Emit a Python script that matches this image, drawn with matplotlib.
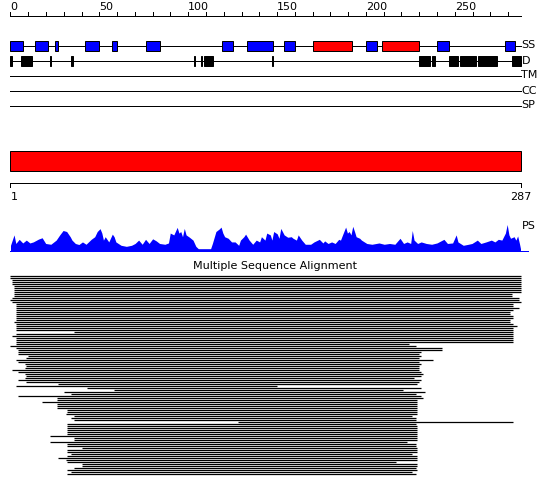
import matplotlib
matplotlib.use("Agg")
import matplotlib.pyplot as plt
from matplotlib.patches import Rectangle

# ---------------- data (residue coordinates, sequence length 287) ----------------
seq_len = 287
ruler_labels = [0, 50, 100, 150, 200, 250]

# secondary structure elements: (start, end, type)  E = strand (blue), H = helix (red)
ss_start = [0, 14, 25, 42, 57, 76, 119, 133, 154, 170, 200, 209, 240, 278]
ss_end   = [7, 21, 27, 50, 60, 84, 125, 148, 160, 192, 206, 230, 247, 284]
ss_type  = ["E", "E", "E", "E", "E", "E", "E", "E", "E", "H", "E", "H", "E", "E"]

# disordered regions
dis_start = [0, 6, 22, 34, 103, 107, 109, 147, 230, 237, 247, 253, 263, 282]
dis_end   = [1, 12, 23, 35, 104, 108, 114, 148, 236, 239, 252, 262, 274, 287]

track_names = ["SS", "D", "TM", "CC", "SP"]

# PSIPRED-like profile (PS): positions and relative heights
ps_pos = [0, 2, 3, 4.9, 6.9, 8.9, 10.9, 12.8, 15.8, 17.8, 19.8, 22.7, 25.7, 27.7, 29.6,
          31.6, 33.6, 34.6, 36.5, 38.5, 40.5, 42.5, 45.4, 47.4, 48.8, 50.4, 51.4, 52.3,
          53.3, 55.3, 57.3, 58.3, 59.3, 62.2, 65.2, 68.1, 70.1, 72.1, 74.1, 76, 78, 80,
          82, 83.9, 86.9, 88.9, 89.9, 91.9, 93.8, 94.8, 95.8, 96.8, 97.8, 98.8, 100.7,
          102.7, 104.3, 105.7, 112.6, 113.6, 115.6, 117.5, 118.5, 119.5, 120.5, 122.5,
          124.4, 126.4, 128.4, 129.4, 131.3, 132.3, 134.3, 136.3, 138.3, 140.2, 141.2,
          143.2, 144.2, 146.2, 147.1, 148.1, 150.1, 151.1, 152.1, 154, 156, 158, 159,
          160.9, 161.9, 163.9, 165.9, 168.9, 170.8, 173.8, 175.8, 176.8, 178.7, 180.7,
          182.7, 184.7, 185.7, 187.6, 188.6, 189.6, 190.6, 191.6, 192.6, 193.6, 194.5,
          196.5, 197.5, 200.5, 203.4, 207.4, 210.3, 213.3, 216.3, 219.2, 221.2, 223.2,
          225.2, 226.1, 227.1, 229.1, 231.1, 234, 237, 240, 243.9, 245.9, 248.8, 250.8,
          251.8, 254.8, 257.7, 259.7, 262.7, 264.7, 267.6, 270.6, 272.6, 274.5, 276.5,
          278.5, 279.5, 280.5, 281.4, 283.4, 284.4, 285.4, 286.4, 287]
ps_val = [0.2, 0.6, 0.27, 0.43, 0.29, 0.4, 0.29, 0.33, 0.44, 0.49, 0.27, 0.24, 0.4, 0.6, 0.77,
          0.73, 0.53, 0.4, 0.27, 0.23, 0.33, 0.24, 0.43, 0.53, 0.73, 0.84, 0.67, 0.4,
          0.53, 0.33, 0.63, 0.53, 0.33, 0.2, 0.16, 0.2, 0.27, 0.4, 0.24, 0.43, 0.27, 0.45,
          0.37, 0.27, 0.24, 0.29, 0.67, 0.6, 0.89, 0.67, 0.73, 0.53, 0.85, 0.6, 0.51,
          0.4, 0.16, 0.07, 0.07, 0.27, 0.73, 0.83, 0.9, 0.67, 0.53, 0.47,
          0.33, 0.33, 0.2, 0.4, 0.53, 0.63, 0.4, 0.24, 0.4, 0.33, 0.53,
          0.4, 0.67, 0.6, 0.4, 0.73, 0.64, 0.47, 0.85, 0.6, 0.51, 0.53, 0.47,
          0.4, 0.6, 0.4, 0.24, 0.24, 0.33, 0.43, 0.29, 0.37, 0.27, 0.33,
          0.27, 0.43, 0.4, 0.73, 0.9, 0.67, 0.73, 0.6, 0.93, 0.73, 0.53,
          0.47, 0.4, 0.27, 0.24, 0.29, 0.24, 0.27, 0.24, 0.47, 0.27, 0.33,
          0.27, 0.77, 0.4, 0.27, 0.33, 0.27, 0.24, 0.29, 0.43, 0.27, 0.29, 0.6,
          0.33, 0.2, 0.24, 0.27, 0.4, 0.27, 0.33, 0.4, 0.33, 0.43, 0.4,
          0.67, 1.0, 0.6, 0.47, 0.53, 0.4, 0.56, 0.27, 0.07]

# multiple sequence alignment: start / end (residue) of each aligned sequence
msa_start = [0, 0, 1, 1, 1, 2, 2, 2, 2, 2, 2, 1, 0, 1, 3, 3, 3, 3, 3, 3,
             3, 3, 3, 2, 3, 3, 3, 3, 36, 3, 1, 3, 3, 3, 3, 0, 3, 4, 4, 4,
             10, 9, 3, 4, 8, 9, 8, 1, 4, 8, 9, 8, 4, 9, 27, 3, 43, 58, 30, 34,
             4, 26, 26, 18, 26, 26, 26, 32, 32, 31, 36, 34, 36, 128, 32, 32, 32, 32, 32, 32,
             22, 36, 36, 22, 32, 32, 40, 32, 32, 34, 32, 27, 31, 32, 40, 40, 36, 32, 34, 32]
msa_end = [287, 287, 287, 287, 287, 287, 287, 287, 287, 282, 282, 286, 286, 287, 283, 283, 286, 283, 281, 281,
           283, 283, 281, 281, 283, 285, 283, 283, 283, 283, 283, 283, 283, 283, 224, 228, 243, 243, 231, 230,
           231, 230, 238, 230, 231, 230, 230, 230, 231, 232, 231, 227, 231, 230, 229, 150, 231, 221, 233, 228,
           231, 232, 229, 229, 229, 229, 229, 229, 229, 229, 226, 228, 228, 283, 228, 229, 229, 229, 229, 229,
           229, 229, 229, 223, 228, 228, 229, 229, 229, 226, 229, 229, 229, 217, 229, 229, 228, 229, 226, 228]

# ---------------- layout ----------------
W, H = 550, 495
scale = 510.0 / seq_len          # pixels per residue
x0_pix = 10.5                    # pixel of residue position 0

fig = plt.figure(figsize=(W / 100, H / 100), dpi=100)
ax = fig.add_axes([0, 0, 1, 1])
ax.set_xlim(-x0_pix / scale, (W - x0_pix) / scale)
ax.set_ylim(H, 0)
ax.axis("off")

FONT = dict(family="DejaVu Sans", size=8)
lw1 = 72.0 / 100  # 1 pixel in points

# top ruler
ruler_y = 15.5
ax.plot([0, seq_len], [ruler_y, ruler_y], color="black", lw=lw1)
for t in range(0, seq_len, 10):
    ax.plot([t, t], [ruler_y, ruler_y - 4], color="black", lw=lw1)
for t in ruler_labels:
    ax.text(t, 10.5, str(t), ha="left", va="baseline", **FONT)

# feature tracks
track_y = [45.5, 60.5, 75.5, 90.5, 105.5]
for name, y in zip(track_names, track_y):
    ax.plot([0, seq_len], [y, y], color="black", lw=lw1, zorder=1)
    ax.text(seq_len + 0.5, y, name, ha="left", va="center", **FONT)

for s, e, t in zip(ss_start, ss_end, ss_type):
    ax.add_patch(Rectangle((s, track_y[0] - 5), e - s, 10,
                           facecolor="#0000FF" if t == "E" else "#FF0000",
                           edgecolor="black", lw=lw1, zorder=2))
for s, e in zip(dis_start, dis_end):
    ax.add_patch(Rectangle((s, track_y[1] - 5), e - s, 10,
                           facecolor="black", edgecolor="black", lw=lw1, zorder=2))

# full-length domain bar
ax.add_patch(Rectangle((0, 150.5), seq_len, 20, facecolor="#FF0000",
                       edgecolor="black", lw=lw1))
ax.plot([0, seq_len], [182.5, 182.5], color="black", lw=lw1)
ax.plot([0, 0], [182.5, 187], color="black", lw=lw1)
ax.plot([seq_len, seq_len], [182.5, 187], color="black", lw=lw1)
ax.text(0, 197, "1", ha="left", va="center", **FONT)
ax.text(seq_len, 197, str(seq_len), ha="center", va="center", **FONT)

# PS profile
ps_base = 250.5
ps_h = 26
ax.fill_between(ps_pos, [ps_base] * len(ps_pos), [ps_base - v * ps_h for v in ps_val],
                color="#0000FF", lw=0)
ax.plot([0, seq_len + 4], [ps_base, ps_base], color="#0000FF", lw=lw1)
ax.text(seq_len + 0.5, 226, "PS", ha="left", va="center", **FONT)

# multiple sequence alignment
ax.text(148.8, 266, "Multiple Sequence Alignment", ha="center", va="center", **FONT)
msa_y = [275.5 + 2 * i for i in range(len(msa_start))]
ax.hlines(msa_y, msa_start, msa_end, color="black", lw=0.9)

fig.savefig("out.png", dpi=100, facecolor="white")
